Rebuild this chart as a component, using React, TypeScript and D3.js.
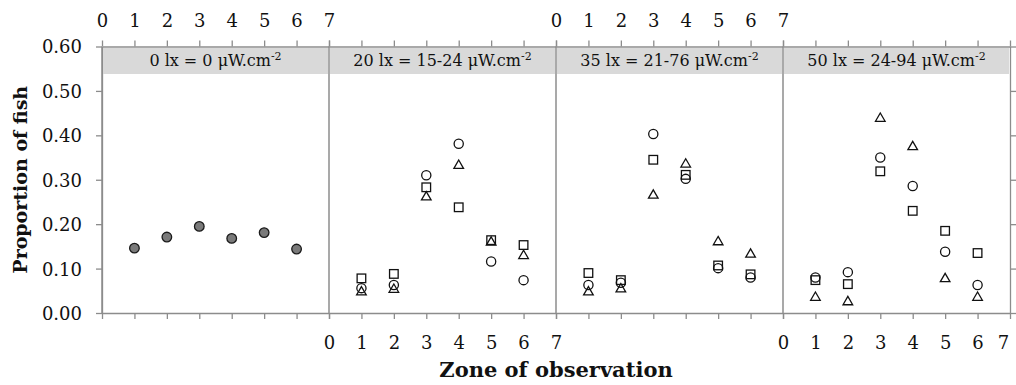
import React, { useEffect, useRef } from "react";
import * as d3 from "d3";

// light levels shown as panels (header text, superscript added when drawn)
const panelTitles = [
  "0 lx = 0 μW.cm",
  "20 lx = 15-24 μW.cm",
  "35 lx = 21-76 μW.cm",
  "50 lx = 24-94 μW.cm",
];
const zones = [1, 2, 3, 4, 5, 6];
const xTicks = [0, 1, 2, 3, 4, 5, 6, 7];
const yTicks = [0, 0.1, 0.2, 0.3, 0.4, 0.5, 0.6];

// 0 lx, filled circles
const darkVals = [0.146, 0.171, 0.195, 0.168, 0.181, 0.144];

// 20 lx
const lux20Circle = [0.056, 0.063, 0.31, 0.381, 0.116, 0.074];
const lux20Square = [0.078, 0.088, 0.283, 0.238, 0.164, 0.153];
const lux20Triangle = [0.05, 0.056, 0.264, 0.335, 0.162, 0.132];

// 35 lx
const lux35Circle = [0.063, 0.068, 0.403, 0.302, 0.101, 0.08];
const lux35Square = [0.09, 0.074, 0.345, 0.311, 0.107, 0.087];
const lux35Triangle = [0.05, 0.057, 0.268, 0.338, 0.163, 0.135];

// 50 lx
const lux50Circle = [0.08, 0.092, 0.35, 0.286, 0.138, 0.063];
const lux50Square = [0.074, 0.065, 0.319, 0.23, 0.185, 0.135];
const lux50Triangle = [0.038, 0.028, 0.441, 0.377, 0.08, 0.038];

const W = 1016;
const H = 385;
const FONT = "'DejaVu Serif', serif";
const AXIS = "#8c8c8c";

export default function App() {
  const ref = useRef<SVGSVGElement>(null);

  useEffect(() => {
    const svg = d3.select(ref.current);
    svg.selectAll("*").remove();

    const top = 46.5;
    const bottom = 313;
    const left = 102;
    const right = 1010;

    const panelScale = d3
      .scaleBand<number>()
      .domain([0, 1, 2, 3])
      .range([left, right])
      .paddingInner(0)
      .paddingOuter(0);
    const pw = panelScale.bandwidth();

    const y = d3.scaleLinear().domain([0, 0.6]).range([bottom, top]);

    const series = [
      { circle: [], square: [], triangle: [] },
      { circle: lux20Circle, square: lux20Square, triangle: lux20Triangle },
      { circle: lux35Circle, square: lux35Square, triangle: lux35Triangle },
      { circle: lux50Circle, square: lux50Square, triangle: lux50Triangle },
    ];

    const styleAxis = (g: any) => {
      g.selectAll("path").attr("stroke", AXIS).attr("stroke-width", 1.3);
      g.selectAll("line").attr("stroke", AXIS).attr("stroke-width", 1.3);
      g.selectAll("text")
        .attr("fill", "#111")
        .style("font-family", FONT)
        .style("font-size", "18px");
    };

    // left y axis
    const yAxis = svg
      .append("g")
      .attr("transform", `translate(${left},0)`)
      .call(d3.axisLeft(y).tickValues(yTicks).tickSize(6).tickSizeOuter(0).tickFormat(d3.format(".2f")));
    styleAxis(yAxis);
    yAxis.selectAll("text").attr("x", -20).attr("dy", "0.36em");

    // right y axis, ticks only
    const yRight = svg
      .append("g")
      .attr("transform", `translate(${right},0)`)
      .call(d3.axisRight(y).tickValues(yTicks).tickSize(6).tickSizeOuter(0).tickFormat(() => ""));
    styleAxis(yRight);

    panelTitles.forEach((title, i) => {
      const x0 = panelScale(i)!;
      const x = d3.scaleLinear().domain([0, 7]).range([x0, x0 + pw]);
      const pg = svg.append("g");

      // header band
      pg.append("rect")
        .attr("x", x0 + 1)
        .attr("y", 48)
        .attr("width", pw - 2)
        .attr("height", 26)
        .attr("fill", "#d9d9d9");
      const t = pg
        .append("text")
        .attr("x", x0 + pw / 2)
        .attr("y", 66)
        .attr("text-anchor", "middle")
        .attr("fill", "#111")
        .style("font-family", FONT)
        .style("font-size", "16px")
        .text(title);
      t.append("tspan").attr("dy", -6).style("font-size", "11px").text("-2");

      // panel divider
      pg.append("line")
        .attr("x1", x0)
        .attr("x2", x0)
        .attr("y1", top)
        .attr("y2", bottom)
        .attr("stroke", AXIS)
        .attr("stroke-width", 1.5);

      const topAxis = pg
        .append("g")
        .attr("transform", `translate(0,${top})`)
        .call(d3.axisTop(x).tickValues(xTicks).tickSize(6).tickSizeOuter(0).tickFormat(d3.format("d")));
      styleAxis(topAxis);
      topAxis.selectAll("text").attr("y", -20).attr("dy", null);
      if (i % 2 === 1) topAxis.selectAll("text").remove();

      const botAxis = pg
        .append("g")
        .attr("transform", `translate(0,${bottom})`)
        .call(d3.axisBottom(x).tickValues(xTicks).tickSize(6).tickSizeOuter(0).tickFormat(d3.format("d")));
      styleAxis(botAxis);
      botAxis.selectAll("text").attr("y", 36).attr("dy", null);
      if (i % 2 === 0) botAxis.selectAll("text").remove();
      if (i === 3) {
        // keep the last label inside the frame
        botAxis
          .selectAll("text")
          .filter((d: any) => d === 7)
          .attr("x", -7);
      }

      if (i === 0) {
        pg.selectAll("circle.dark")
          .data(darkVals)
          .enter()
          .append("circle")
          .attr("class", "dark")
          .attr("cx", (_d, j) => x(zones[j]))
          .attr("cy", (d) => y(d))
          .attr("r", 4.8)
          .attr("fill", "#7a7a7a")
          .attr("stroke", "#1a1a1a")
          .attr("stroke-width", 1.3);
        return;
      }

      const s = series[i];
      const triSize = 40;
      const triOff = Math.sqrt(triSize / (3 * Math.sqrt(3))) / 2;
      const tri = d3.symbol().type(d3.symbolTriangle).size(triSize)();
      pg.selectAll("path.tri")
        .data(s.triangle)
        .enter()
        .append("path")
        .attr("class", "tri")
        .attr("d", tri)
        .attr("transform", (d, j) => `translate(${x(zones[j])},${y(d) + triOff})`)
        .attr("fill", "none")
        .attr("stroke", "#111")
        .attr("stroke-width", 1.3);

      pg.selectAll("rect.sq")
        .data(s.square)
        .enter()
        .append("rect")
        .attr("class", "sq")
        .attr("x", (_d, j) => x(zones[j]) - 4.3)
        .attr("y", (d) => y(d) - 4.3)
        .attr("width", 8.6)
        .attr("height", 8.6)
        .attr("fill", "none")
        .attr("stroke", "#111")
        .attr("stroke-width", 1.3);

      pg.selectAll("circle.ci")
        .data(s.circle)
        .enter()
        .append("circle")
        .attr("class", "ci")
        .attr("cx", (_d, j) => x(zones[j]))
        .attr("cy", (d) => y(d))
        .attr("r", 4.6)
        .attr("fill", "none")
        .attr("stroke", "#111")
        .attr("stroke-width", 1.3);
    });

    // axis titles
    svg
      .append("text")
      .attr("transform", `translate(27,${(top + bottom) / 2}) rotate(-90)`)
      .attr("text-anchor", "middle")
      .attr("fill", "#111")
      .style("font-family", FONT)
      .style("font-size", "19px")
      .style("font-weight", "bold")
      .text("Proportion of fish");

    svg
      .append("text")
      .attr("x", (left + right) / 2)
      .attr("y", 377)
      .attr("text-anchor", "middle")
      .attr("fill", "#111")
      .style("font-family", FONT)
      .style("font-size", "21px")
      .style("font-weight", "bold")
      .text("Zone of observation");
  }, []);

  return (
    <svg
      ref={ref}
      width={W}
      height={H}
      style={{ position: "absolute", left: 0, top: 0, background: "#fff" }}
    />
  );
}
